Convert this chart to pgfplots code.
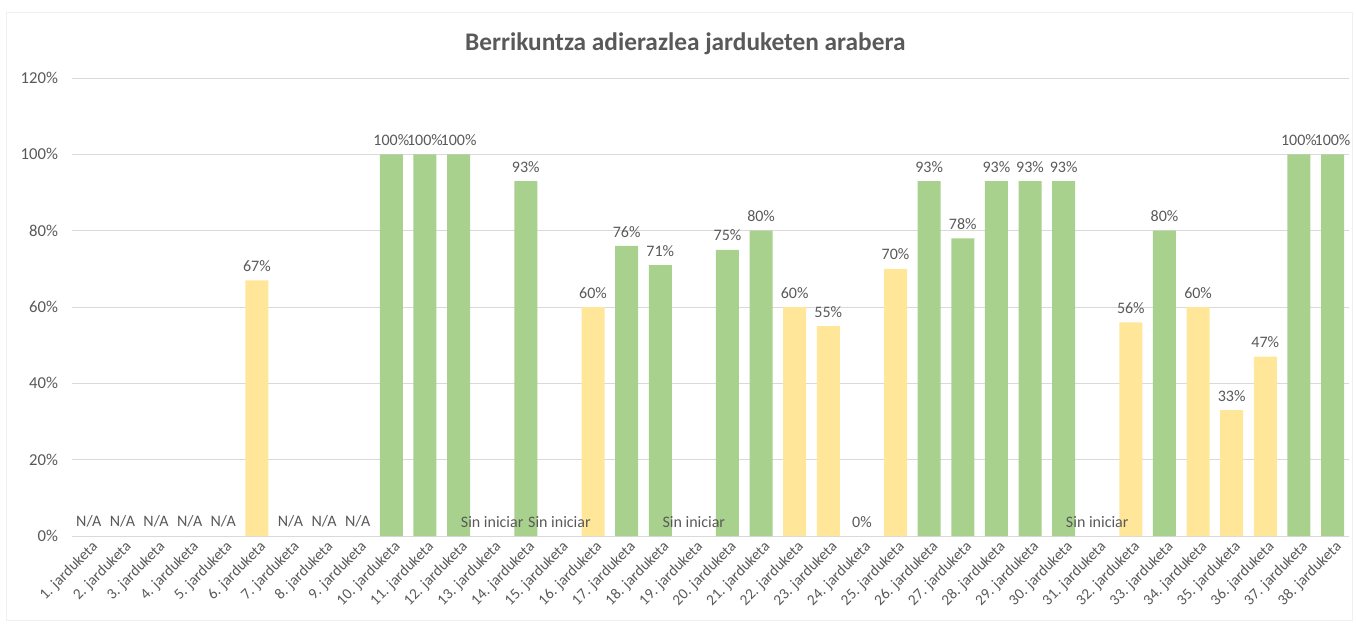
\documentclass[border=0pt]{standalone}
\usepackage{pgfplots}
\pgfplotsset{compat=1.18}
\usepackage{fontspec}
\setmainfont{Carlito}
\definecolor{barGreen}{HTML}{A9D18E}
\definecolor{barYellow}{HTML}{FFE699}
\definecolor{txtGray}{HTML}{595959}
\definecolor{gridGray}{HTML}{D9D9D9}

\begin{document}
\begin{tikzpicture}
% page = 1356 x 626 px of the reference, at 0.75pt per px
\path[use as bounding box] (0pt,0pt) rectangle (1017pt,469.5pt);
\draw[black!6] (5pt,4pt) rectangle (1014pt,460.5pt);
\node[font=\bfseries\fontsize{19}{22}\selectfont, text=txtGray] at (514pt,437pt)
  {Berrikuntza adierazlea jarduketen arabera};
\begin{axis}[
  at={(54pt,67.5pt)}, anchor=south west,
  scale only axis,
  width=958pt, height=343.5pt,
  ybar, bar width=17.25pt, bar shift=0pt,
  xmin=-0.5, xmax=37.5,
  ymin=0, ymax=120,
  ytick={0,20,...,120},
  yticklabels={0\%,20\%,40\%,60\%,80\%,100\%,120\%},
  xtick={0,...,37},
  xticklabels={1. jarduketa,2. jarduketa,3. jarduketa,4. jarduketa,5. jarduketa,
    6. jarduketa,7. jarduketa,8. jarduketa,9. jarduketa,10. jarduketa,
    11. jarduketa,12. jarduketa,13. jarduketa,14. jarduketa,15. jarduketa,
    16. jarduketa,17. jarduketa,18. jarduketa,19. jarduketa,20. jarduketa,
    21. jarduketa,22. jarduketa,23. jarduketa,24. jarduketa,25. jarduketa,
    26. jarduketa,27. jarduketa,28. jarduketa,29. jarduketa,30. jarduketa,
    31. jarduketa,32. jarduketa,33. jarduketa,34. jarduketa,35. jarduketa,
    36. jarduketa,37. jarduketa,38. jarduketa},
  x tick label style={rotate=45, anchor=north east, text=txtGray,
    font=\fontsize{11.5}{13}\selectfont, inner sep=1pt, yshift=-2pt},
  y tick label style={text=txtGray, font=\fontsize{12.5}{14}\selectfont, xshift=-7pt},
  major tick length=0pt,
  ymajorgrids, grid style={gridGray, line width=0.75pt},
  axis x line*=bottom, axis y line*=left,
  x axis line style={gridGray, line width=0.75pt, -},
  y axis line style={draw=none},
  /pgf/number format/assume math mode=true,
  every node near coord/.append style={text=txtGray,
    font=\fontsize{12}{14}\selectfont, yshift=3pt},
]
\addplot[fill=barGreen, draw=none,
  nodes near coords={\pgfmathprintnumber{\pgfplotspointmeta}\%}] coordinates {
  (9,100) (10,100) (11,100) (13,93) (16,76) (17,71) (19,75) (20,80)
  (25,93) (26,78) (27,93) (28,93) (29,93) (32,80) (36,100) (37,100)
};
\addplot[fill=barYellow, draw=none,
  nodes near coords={\pgfmathprintnumber{\pgfplotspointmeta}\%}] coordinates {
  (5,67) (15,60) (21,60) (22,55) (24,70) (31,56) (33,60) (34,33) (35,47)
};
\addplot[draw=none, fill=none, point meta=explicit symbolic, nodes near coords]
  coordinates {
  (0,0) [N/A] (1,0) [N/A] (2,0) [N/A] (3,0) [N/A] (4,0) [N/A]
  (6,0) [N/A] (7,0) [N/A] (8,0) [N/A]
  (12,0) [Sin iniciar] (14,0) [Sin iniciar] (18,0) [Sin iniciar]
  (23,0) [0\%] (30,0) [Sin iniciar]
};
\end{axis}
\end{tikzpicture}
\end{document}
